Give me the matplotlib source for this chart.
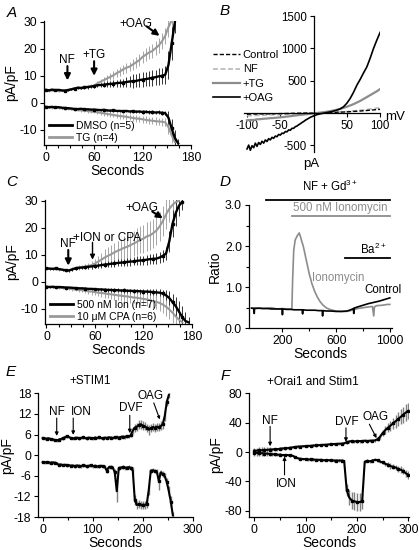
import numpy as np
import matplotlib
matplotlib.use("Agg")
import matplotlib.pyplot as plt
from matplotlib.lines import Line2D
from matplotlib.ticker import MultipleLocator, FixedLocator

plt.rcParams['font.family'] = ['Liberation Sans', 'DejaVu Sans']
plt.rcParams['mathtext.fontset'] = 'custom'
plt.rcParams['mathtext.rm'] = 'Liberation Sans'
plt.rcParams['mathtext.it'] = 'Liberation Sans:italic'
plt.rcParams['font.size'] = 8
plt.rcParams['axes.unicode_minus'] = False

# ---------------- data ----------------
# A: whole-cell currents (pA/pF), 4 s sampling
t_a = np.arange(0, 168, 4)
dmso_up = [4.8, 4.6, 4.9, 4.7, 4.8, 4.6, 4.5, 4.7, 5.0, 5.3,
           5.6, 5.4, 5.7, 5.8, 6.0, 6.2, 6.5, 6.6, 6.7, 6.9,
           7.0, 7.1, 7.3, 7.4, 7.5, 7.7, 7.9, 8.0, 8.1, 8.4,
           8.6, 8.8, 9.0, 9.3, 9.5, 9.8, 10.0, 10.4, 14.0, 22.0,
           30.0]
dmso_up_err = [0.3, 0.3, 0.3, 0.3, 0.3, 0.3, 0.3, 0.4, 0.4, 0.4,
               0.4, 0.4, 0.5, 0.5, 0.5, 0.6, 0.8, 0.8, 0.9, 1.0,
               1.0, 1.2, 1.3, 1.4, 1.5, 1.8, 2.2, 2.5, 2.4, 2.6,
               2.8, 2.6, 2.9, 3.0, 2.8, 3.2, 3.0, 3.4, 5.0, 6.0,
               4.0]
tg_up = [4.6, 4.4, 4.6, 4.5, 4.3, 4.5, 4.6, 4.9, 5.1, 5.4,
         5.6, 5.7, 5.9, 6.0, 6.2, 6.3, 7.2, 7.8, 8.4, 9.0,
         9.6, 10.2, 11.0, 11.6, 12.4, 13.0, 13.4, 14.2, 15.0, 15.8,
         17.0, 17.8, 18.6, 19.2, 20.2, 21.2, 22.8, 24.8, 28.0, 30.5]
tg_up_err = [0.3, 0.3, 0.3, 0.3, 0.3, 0.3, 0.4, 0.4, 0.4, 0.4,
             0.5, 0.5, 0.5, 0.6, 0.6, 0.7, 1.0, 1.0, 1.2, 1.2,
             1.3, 1.4, 1.5, 1.5, 1.6, 1.8, 1.8, 2.0, 2.0, 2.2,
             2.2, 2.4, 2.4, 2.5, 2.6, 2.8, 3.0, 3.0, 3.5, 3.0]
dmso_dn = [-1.5, -1.6, -1.5, -1.7, -1.6, -1.8, -1.9, -2.0, -2.1, -2.3,
           -2.3, -2.2, -2.4, -2.4, -2.5, -2.5, -2.6, -2.7, -2.6, -2.8,
           -2.9, -2.8, -3.0, -3.0, -3.1, -3.0, -3.2, -3.1, -3.3, -3.2,
           -3.4, -3.3, -3.5, -3.4, -3.6, -3.5, -3.7, -3.8, -5.5, -9.5,
           -13.0, -15.0]
dmso_dn_err = [0.2, 0.2, 0.2, 0.2, 0.2, 0.3, 0.3, 0.3, 0.3, 0.3,
               0.3, 0.3, 0.3, 0.4, 0.4, 0.4, 0.4, 0.4, 0.4, 0.4,
               0.5, 0.5, 0.5, 0.5, 0.5, 0.5, 0.5, 0.6, 0.6, 0.6,
               0.6, 0.6, 0.7, 0.7, 0.7, 0.7, 0.8, 0.8, 2.5, 3.5,
               3.0, 1.5]
tg_dn = [-1.6, -1.7, -1.8, -1.7, -1.9, -2.0, -2.1, -2.2, -2.4, -2.6,
         -2.7, -2.8, -2.9, -3.1, -3.2, -3.3, -3.5, -3.7, -3.9, -4.1,
         -4.3, -4.5, -4.7, -4.9, -5.0, -5.2, -5.4, -5.6, -5.8, -5.9,
         -6.1, -6.3, -6.5, -6.6, -6.8, -6.9, -7.0, -7.2, -9.0, -12.0,
         -14.5]
tg_dn_err = [0.3, 0.3, 0.3, 0.3, 0.3, 0.3, 0.4, 0.4, 0.4, 0.4,
             0.5, 0.5, 0.5, 0.6, 0.6, 0.6, 0.7, 0.7, 0.8, 0.8,
             0.9, 0.9, 1.0, 1.0, 1.0, 1.1, 1.1, 1.2, 1.2, 1.2,
             1.3, 1.3, 1.3, 1.4, 1.4, 1.4, 1.5, 1.5, 2.5, 3.0,
             2.0]

# B: I-V relations (pA vs mV)
mv_oag = [-100, -97.5, -95, -92.5, -90, -87.5, -85, -82.5, -80, -77.5,
          -75, -72.5, -70, -67.5, -65, -62.5, -60, -57.5, -55, -52.5,
          -50, -47.5, -45, -42.5, -40, -37.5, -35, -32.5, -30, -27.5,
          -25, -22.5, -20, -17.5, -15, -12.5, -10, -7.5, -5, -2.5, 0,
          5, 10, 15, 20, 25, 30, 35, 40, 45, 50,
          55, 60, 65, 70, 75, 80, 85, 90, 95, 100]
i_oag = [-560, -500, -580, -510, -540, -470, -520, -460, -490, -440,
         -470, -420, -445, -400, -420, -380, -395, -360, -370, -335,
         -345, -315, -320, -290, -295, -265, -270, -240, -240, -215,
         -205, -185, -170, -150, -135, -115, -100, -85, -70, -58, -48,
         -28, -15, -5, 5, 15, 28, 43, 62, 95, 150,
         225, 320, 430, 520, 620, 714, 850, 1000, 1130, 1250]
mv_tg = [-100, -95, -90, -85, -80, -75, -70, -65, -60, -55, -50,
         -45, -40, -35, -30, -25, -20, -15, -10, -5, 0,
         5, 10, 15, 20, 25, 30, 35, 40, 45, 50,
         55, 60, 65, 70, 75, 80, 85, 90, 95, 100]
i_tg = [-115, -110, -112, -100, -98, -92, -88, -82, -80, -74, -70,
        -64, -58, -52, -45, -38, -32, -26, -20, -14, -8,
        -2, 4, 10, 18, 26, 36, 48, 62, 78, 95,
        115, 135, 160, 185, 215, 245, 275, 305, 335, 370]
mv_ctl = [-100, -75, -50, -25, 0, 25, 50, 75, 100]
i_nf = [-45, -35, -25, -15, -5, 5, 20, 45, 80]
i_ctl = [-20, -16, -12, -6, 0, 6, 15, 32, 55]

# C: ionomycin / CPA
t_c = np.arange(0, 180, 4)
ion_up = [5.0, 4.9, 4.8, 5.0, 4.7, 4.5, 4.3, 4.2, 4.6, 5.0,
          5.2, 5.3, 5.4, 5.6, 5.7, 5.9, 6.0, 6.2, 6.4, 6.5,
          6.7, 6.8, 7.0, 7.1, 7.2, 7.4, 7.5, 7.6, 7.8, 7.9,
          8.0, 8.2, 8.4, 8.5, 8.6, 9.0, 9.6, 10.5, 15.0, 21.5,
          25.5, 28.2, 29.6]
ion_up_err = [0.4, 0.4, 0.4, 0.4, 0.4, 0.4, 0.4, 0.4, 0.5, 0.5,
              0.6, 0.6, 0.7, 0.7, 0.8, 0.8, 0.9, 1.0, 1.0, 1.1,
              1.2, 1.2, 1.3, 1.3, 1.4, 1.4, 1.5, 1.5, 1.6, 1.6,
              1.7, 1.8, 1.8, 1.9, 2.0, 2.0, 2.2, 2.5, 4.0, 5.0,
              5.0, 4.0, 3.0]
cpa_up = [4.9, 4.8, 4.9, 4.7, 4.6, 4.4, 4.2, 4.3, 4.8, 5.1,
          5.3, 5.5, 5.6, 5.9, 6.2, 6.8, 7.5, 8.2, 9.0, 9.6,
          10.2, 10.9, 11.5, 12.0, 12.6, 13.0, 13.6, 14.2, 14.8, 15.5,
          16.0, 16.8, 17.2, 18.0, 19.0, 20.5, 22.5, 25.0, 27.0, 28.5,
          29.5, 30.0]
cpa_up_err = [0.4, 0.4, 0.4, 0.4, 0.4, 0.4, 0.5, 0.5, 0.6, 0.7,
              0.8, 0.9, 1.0, 1.2, 1.4, 1.8, 2.2, 2.6, 3.0, 3.2,
              3.4, 3.6, 3.8, 4.0, 4.2, 4.4, 4.6, 4.8, 5.0, 5.0,
              5.2, 5.2, 5.4, 5.4, 5.5, 5.5, 5.6, 5.5, 5.0, 4.5,
              3.5, 2.5]
ion_dn = [-1.8, -1.9, -1.8, -2.0, -1.9, -2.0, -2.1, -2.1, -2.2, -2.3,
          -2.4, -2.4, -2.5, -2.6, -2.6, -2.7, -2.8, -2.8, -2.9, -3.0,
          -3.0, -3.1, -3.1, -3.2, -3.2, -3.3, -3.3, -3.4, -3.4, -3.5,
          -3.6, -3.6, -3.7, -3.8, -3.9, -4.0, -4.3, -5.0, -6.0, -7.5,
          -9.0, -11.0, -13.0, -14.5, -15.0]
ion_dn_err = [0.3, 0.3, 0.3, 0.3, 0.3, 0.3, 0.3, 0.3, 0.4, 0.4,
              0.4, 0.4, 0.5, 0.5, 0.5, 0.5, 0.6, 0.6, 0.6, 0.6,
              0.7, 0.7, 0.7, 0.7, 0.8, 0.8, 0.8, 0.8, 0.9, 0.9,
              0.9, 1.0, 1.0, 1.0, 1.1, 1.2, 1.4, 1.8, 2.5, 3.0,
              3.5, 4.0, 4.0, 3.5, 2.0]
cpa_dn = [-1.9, -2.0, -2.0, -2.1, -2.2, -2.3, -2.4, -2.5, -2.7, -2.9,
          -3.0, -3.1, -3.3, -3.5, -3.6, -3.8, -4.0, -4.1, -4.3, -4.5,
          -4.6, -4.8, -5.0, -5.1, -5.3, -5.4, -5.6, -5.8, -5.9, -6.1,
          -6.3, -6.5, -6.8, -7.1, -7.4, -7.8, -8.4, -9.2, -10.2, -11.4,
          -12.8, -14.0, -15.0]
cpa_dn_err = [0.3, 0.3, 0.3, 0.4, 0.4, 0.4, 0.5, 0.5, 0.6, 0.6,
              0.7, 0.8, 0.9, 1.0, 1.1, 1.2, 1.3, 1.4, 1.5, 1.6,
              1.7, 1.8, 1.9, 2.0, 2.0, 2.1, 2.2, 2.2, 2.3, 2.4,
              2.4, 2.5, 2.6, 2.7, 2.8, 3.0, 3.2, 3.4, 3.6, 3.8,
              3.5, 3.0, 2.0]

# D: fura-2 ratio
t_iono = [-30, 0, 40, 80, 120, 160, 200, 240, 270, 276, 284, 295,
          310, 325, 335, 345, 355, 365, 380, 400, 420, 440, 460, 480,
          500, 530, 560, 600, 640, 680, 720, 760, 800, 840, 870, 880,
          885, 890, 900, 940, 980, 1000]
r_iono = [0.49, 0.50, 0.48, 0.49, 0.50, 0.47, 0.48, 0.47, 0.47, 1.20, 1.90, 2.15,
          2.25, 2.32, 2.22, 2.10, 2.00, 1.85, 1.62, 1.32, 1.08, 0.90, 0.76, 0.65,
          0.57, 0.49, 0.45, 0.42, 0.41, 0.41, 0.44, 0.48, 0.50, 0.52, 0.53, 0.30,
          0.52, 0.53, 0.55, 0.56, 0.58, 0.58]
t_ctl = [-30, -12, -10, -8, 30, 60, 90, 120, 150, 180, 198, 200, 202, 230,
         260, 290, 320, 348, 350, 352, 380, 410, 440, 470, 497, 499, 501,
         530, 560, 600, 640, 680, 700, 729, 731, 733, 760, 800, 840, 880,
         920, 960, 1000]
r_ctl = [0.49, 0.48, 0.36, 0.48, 0.49, 0.48, 0.48, 0.47, 0.47, 0.47, 0.47, 0.33, 0.47, 0.46,
         0.46, 0.45, 0.45, 0.45, 0.35, 0.45, 0.44, 0.44, 0.44, 0.43, 0.43, 0.30, 0.43,
         0.42, 0.42, 0.41, 0.41, 0.42, 0.44, 0.48, 0.36, 0.49, 0.52, 0.56, 0.60, 0.63,
         0.66, 0.70, 0.74]
bar_labels = ['NF + Gd$^{3+}$', '500 nM Ionomycin', 'Ba$^{2+}$']
bar_start = [80, 270, 665]
bar_end = [1000, 1000, 1000]

# E: +STIM1
t_e = np.arange(0, 264, 4)
e_up = [5.0, 4.9, 4.8, 4.9, 4.7, 4.6, 4.4, 4.3, 4.5, 4.7,
        4.9, 5.2, 5.5, 5.3, 5.0, 4.8, 5.0, 5.1, 4.9, 5.0,
        5.2, 5.0, 4.9, 5.1, 5.0, 4.9, 5.1, 5.0, 5.2, 5.0,
        4.9, 5.1, 5.0, 5.2, 5.1, 5.0, 5.2, 5.3, 5.1, 5.3,
        5.4, 5.3, 5.5, 5.4, 5.8, 7.2, 8.0, 8.3, 8.8, 9.0,
        8.6, 8.4, 8.0, 7.4, 7.8, 8.2, 8.0, 8.3, 8.1, 8.5,
        9.0, 11.5, 15.5, 17.5]
e_up_err = [0.4, 0.4, 0.4, 0.4, 0.4, 0.4, 0.4, 0.4, 0.4, 0.4,
            0.4, 0.5, 0.5, 0.4, 0.4, 0.4, 0.4, 0.4, 0.4, 0.4,
            0.4, 0.4, 0.4, 0.4, 0.4, 0.4, 0.4, 0.4, 0.4, 0.4,
            0.4, 0.4, 0.4, 0.4, 0.4, 0.4, 0.5, 0.5, 0.5, 0.5,
            0.5, 0.5, 0.5, 0.5, 0.6, 1.0, 1.2, 1.2, 1.3, 1.3,
            1.2, 1.2, 1.2, 1.4, 1.2, 1.2, 1.2, 1.2, 1.2, 1.3,
            1.4, 1.5, 1.2, 0.8]
e_dn = [-2.0, -2.1, -2.0, -2.1, -2.2, -2.1, -2.2, -2.4, -2.8, -2.7,
        -2.9, -2.8, -3.0, -2.9, -3.1, -3.0, -3.2, -3.0, -3.1, -3.2,
        -3.0, -3.1, -3.2, -3.1, -3.0, -3.2, -3.1, -3.3, -3.2, -3.1,
        -3.3, -3.4, -4.5, -3.5, -3.4, -3.6, -5.0, -10.5, -3.8, -3.6,
        -3.5, -3.7, -3.6, -3.5, -3.7, -4.5, -13.0, -14.5, -14.3, -14.6,
        -14.4, -14.5, -14.2, -10.0, -4.5, -4.4, -4.6, -4.8, -7.5, -5.0,
        -5.5, -6.2, -7.8, -10.5, -13.5, -17.5]
e_dn_err = [0.4, 0.4, 0.4, 0.4, 0.4, 0.4, 0.4, 0.4, 0.4, 0.4,
            0.4, 0.4, 0.4, 0.4, 0.4, 0.4, 0.4, 0.4, 0.4, 0.4,
            0.4, 0.4, 0.4, 0.4, 0.4, 0.4, 0.4, 0.4, 0.4, 0.4,
            0.4, 0.5, 0.8, 0.5, 0.5, 0.5, 1.0, 3.0, 0.5, 0.5,
            0.5, 0.5, 0.5, 0.5, 0.5, 1.0, 1.5, 1.2, 1.2, 1.2,
            1.2, 1.2, 1.2, 1.5, 0.6, 0.6, 0.6, 0.7, 2.5, 0.8,
            0.9, 1.0, 1.2, 1.5, 1.5, 1.0]

# F: +Orai1 and Stim1
t_f = np.arange(0, 305, 5)
f_up = [2.0, 2.0, 2.5, 2.5, 3.0, 3.0, 3.5, 3.5, 4.0, 4.0,
        4.5, 5.0, 5.0, 5.5, 6.0, 6.5, 7.0, 7.5, 7.5, 8.0,
        8.0, 8.5, 8.5, 9.0, 9.0, 9.5, 9.5, 10.0, 10.0, 10.5,
        10.5, 11.0, 11.0, 11.5, 11.5, 12.0, 13.5, 14.5, 15.0, 14.5,
        15.0, 15.0, 15.0, 15.5, 15.0, 15.5, 15.5, 16.0, 17.5, 21.0,
        26.0, 30.0, 33.0, 36.0, 39.0, 42.0, 45.0, 48.0, 51.0, 54.0,
        56.0]
f_up_err = [4.0, 4.0, 4.0, 3.8, 3.6, 3.4, 3.0, 2.6, 2.2, 2.0,
            1.8, 1.6, 1.5, 1.5, 1.5, 1.5, 1.5, 1.5, 1.5, 1.5,
            1.5, 1.5, 1.5, 1.5, 1.5, 1.5, 1.5, 1.5, 1.5, 1.5,
            1.5, 1.5, 1.5, 1.5, 1.5, 1.5, 2.0, 2.0, 2.0, 2.0,
            2.0, 2.0, 2.0, 2.0, 2.0, 2.0, 2.0, 2.0, 2.5, 3.0,
            4.0, 5.0, 6.0, 7.0, 8.0, 9.0, 10.0, 10.0, 11.0, 11.0,
            11.0]
f_dn = [-1.0, -1.0, -1.5, -1.5, -2.0, -2.0, -2.5, -3.0, -3.0, -3.5,
        -3.5, -4.0, -4.0, -4.0, -4.5, -5.0, -7.0, -8.5, -9.0, -9.5,
        -9.5, -10.0, -10.0, -10.0, -10.5, -10.5, -10.5, -11.0, -11.0, -11.0,
        -11.0, -11.5, -11.5, -11.5, -11.5, -12.0, -52.0, -62.0, -66.0, -67.0,
        -68.0, -68.0, -67.0, -13.0, -12.0, -12.5, -11.5, -10.5, -11.0, -13.0,
        -14.0, -16.0, -17.0, -19.0, -20.0, -21.0, -23.0, -24.0, -26.0, -29.0,
        -31.0]
f_dn_err = [4.0, 4.0, 4.0, 3.8, 3.6, 3.4, 3.0, 2.6, 2.2, 2.0,
            1.8, 1.6, 1.5, 1.5, 1.5, 1.5, 1.5, 1.5, 1.5, 1.5,
            1.5, 1.5, 1.5, 1.5, 1.5, 1.5, 1.5, 1.5, 1.5, 1.5,
            1.5, 1.5, 1.5, 1.5, 1.5, 1.5, 8.0, 10.0, 11.0, 12.0,
            12.0, 12.0, 10.0, 2.0, 2.0, 2.0, 2.0, 2.0, 2.0, 2.5,
            2.5, 3.0, 3.0, 3.5, 3.5, 4.0, 4.0, 4.5, 4.5, 5.0,
            5.0]

TICK = 8.7
ANN = 8.5


# ---------------- helpers ----------------
def style(ax):
    for s in ('top', 'right'):
        ax.spines[s].set_visible(False)
    for s in ('left', 'bottom'):
        ax.spines[s].set_linewidth(0.9)
    ax.tick_params(direction='out', length=3, width=0.8, labelsize=TICK, pad=2)
    ax.tick_params(which='minor', length=2, width=0.8)


def trace(ax, t, v, e, col, ecol, lw=1.5, ms=0, every=3, elw=0.7):
    tt = t[:len(v)]
    ax.errorbar(tt, v, yerr=e, color=col, ecolor=ecol, elinewidth=elw, lw=lw,
                capsize=0, marker='s' if ms else None, ms=ms, markevery=every)


def arrow(ax, xy0, xy1, lw=1.5, head=9):
    ax.annotate('', xy=xy1, xytext=xy0,
                arrowprops=dict(arrowstyle='-|>', lw=lw, color='k',
                                mutation_scale=head, shrinkA=0, shrinkB=0))


fig = plt.figure(figsize=(4.19, 5.5), dpi=100)

# ---------------- A ----------------
axA = fig.add_axes([0.105, 0.7364, 0.352, 0.2255])
style(axA)
trace(axA, t_a, tg_up, tg_up_err, '0.6', '0.65')
trace(axA, t_a, tg_dn, tg_dn_err, '0.6', '0.65')
trace(axA, t_a, dmso_up, dmso_up_err, 'k', '0.2', lw=1.7, ms=1.8)
trace(axA, t_a, dmso_dn, dmso_dn_err, 'k', '0.2', lw=1.7, ms=1.8)
axA.set_xlim(-2, 180.5)
axA.set_ylim(-15.6, 30.3)
axA.set_xticks([0, 60, 120, 180])
axA.set_yticks([-10, 0, 10, 20, 30])
axA.xaxis.set_minor_locator(MultipleLocator(15))
axA.set_xlabel('Seconds', fontsize=10, labelpad=0)
axA.set_ylabel('pA/pF', fontsize=10, labelpad=1)
axA.text(27, 16, 'NF', ha='center', va='center', fontsize=ANN)
arrow(axA, (27, 13.6), (27, 8.3))
axA.text(60, 17.8, '+TG', ha='center', va='center', fontsize=ANN)
arrow(axA, (60, 15.4), (60, 10))
axA.text(112, 29.3, '+OAG', ha='center', va='center', fontsize=ANN)
arrow(axA, (125, 28.3), (141, 24.8))
axA.legend([Line2D([], [], color='k', lw=2), Line2D([], [], color='0.6', lw=2)],
           ['DMSO (n=5)', 'TG (n=4)'], loc='lower left', bbox_to_anchor=(0.02, 0.0),
           frameon=False, fontsize=7.5, handlelength=2.2, handletextpad=0.4,
           labelspacing=0.2, borderpad=0.1, borderaxespad=0.1)

# ---------------- B ----------------
axB = fig.add_axes([0.5816, 0.7245, 0.3258, 0.2473])
for s in ('top', 'right'):
    axB.spines[s].set_visible(False)
for s in ('left', 'bottom'):
    axB.spines[s].set_linewidth(0.9)
axB.spines['left'].set_position(('data', 0))
axB.spines['bottom'].set_position(('data', 0))
axB.tick_params(direction='out', length=3, width=0.8, labelsize=8.3, pad=2)
axB.plot(mv_ctl, i_nf, color='0.72', lw=1.2, ls=(0, (3, 1.5)))
axB.plot(mv_ctl, i_ctl, color='k', lw=1.0, ls=(0, (3, 1.5)))
axB.plot(mv_tg, i_tg, color='0.55', lw=1.6)
axB.plot(mv_oag, i_oag, color='k', lw=1.2)
axB.set_xlim(-105, 100)
axB.set_ylim(-600, 1510)
axB.set_xticks([-100, -50, 50, 100])
axB.set_yticks([-500, 500, 1000, 1500])
axB.text(107, -60, 'mV', ha='left', va='center', fontsize=9.5)
axB.text(-3, -790, 'pA', ha='center', va='center', fontsize=9.5, clip_on=False)
axB.legend([Line2D([], [], color='k', lw=1.0, ls=(0, (3, 1.5))),
            Line2D([], [], color='0.72', lw=1.2, ls=(0, (3, 1.5))),
            Line2D([], [], color='0.55', lw=1.6),
            Line2D([], [], color='k', lw=1.2)],
           ['Control', 'NF', '+TG', '+OAG'], loc='upper left',
           bbox_to_anchor=(-0.235, 0.755), frameon=False, fontsize=8,
           handlelength=2.5, handletextpad=0.2, labelspacing=0.4,
           borderpad=0.1, borderaxespad=0)

# ---------------- C ----------------
axC = fig.add_axes([0.107, 0.4109, 0.352, 0.2255])
style(axC)
trace(axC, t_c, cpa_up, cpa_up_err, '0.6', '0.65')
trace(axC, t_c, cpa_dn, cpa_dn_err, '0.6', '0.65')
trace(axC, t_c, ion_up, ion_up_err, 'k', '0.2', lw=1.7, ms=1.8)
trace(axC, t_c, ion_dn, ion_dn_err, 'k', '0.2', lw=1.7, ms=1.8)
axC.set_xlim(-2, 180.5)
axC.set_ylim(-15.6, 30.3)
axC.set_xticks([0, 60, 120, 180])
axC.set_yticks([-10, 0, 10, 20, 30])
axC.xaxis.set_minor_locator(MultipleLocator(15))
axC.set_xlabel('Seconds', fontsize=10, labelpad=0)
axC.set_ylabel('pA/pF', fontsize=10, labelpad=1)
axC.text(27, 13.9, 'NF', ha='center', va='center', fontsize=ANN)
arrow(axC, (27, 11.8), (27, 6))
axC.text(75, 16.4, '+ION or CPA', ha='center', va='center', fontsize=ANN)
arrow(axC, (57, 14.6), (57, 8.2), lw=1.0, head=7)
axC.text(118, 27.3, '+OAG', ha='center', va='center', fontsize=ANN)
arrow(axC, (131, 26), (144, 23.5))
axC.legend([Line2D([], [], color='k', lw=2), Line2D([], [], color='0.6', lw=2)],
           ['500 nM Ion (n=7)', '10 \u03bcM CPA (n=6)'], loc='lower left',
           bbox_to_anchor=(0.02, 0.0), frameon=False, fontsize=7.5,
           handlelength=2.2, handletextpad=0.4, labelspacing=0.2,
           borderpad=0.1, borderaxespad=0.1)

# ---------------- D ----------------
axD = fig.add_axes([0.594, 0.4031, 0.3406, 0.2242])
style(axD)
axD.plot(t_iono, r_iono, color='0.55', lw=1.2)
axD.plot(t_ctl, r_ctl, color='k', lw=1.2)
axD.set_xlim(-50, 1013)
axD.set_ylim(0, 3)
axD.set_xticks([200, 600, 1000])
axD.xaxis.set_minor_locator(FixedLocator([400, 800]))
axD.set_yticks([0, 1, 2, 3])
axD.set_yticklabels(['0.0', '1.0', '2.0', '3.0'])
axD.yaxis.set_minor_locator(FixedLocator([0.5, 1.5, 2.5]))
axD.set_xlabel('Seconds', fontsize=10, labelpad=0)
axD.set_ylabel('Ratio', fontsize=10, labelpad=2)
bar_y = [3.13, 2.74, 1.71]
bar_col = ['k', '0.55', 'k']
text_y = [3.45, 2.93, 1.92]
for lab, x0, x1, yb, col, yt in zip(bar_labels, bar_start, bar_end, bar_y, bar_col, text_y):
    axD.plot([x0, x1], [yb, yb], color=col, lw=1.3, clip_on=False)
    xc = 553 if x0 < 100 else (628 if x0 < 500 else 876)
    axD.text(xc, yt, lab, ha='center', va='center', fontsize=8.3, color=col, clip_on=False)
axD.text(613, 1.22, 'Ionomycin', ha='center', va='center', fontsize=8.3, color='0.55')
axD.text(948, 0.93, 'Control', ha='center', va='center', fontsize=8.3, color='k')

# ---------------- E ----------------
axE = fig.add_axes([0.0914, 0.06, 0.37, 0.2249])
style(axE)
trace(axE, t_e, e_up, e_up_err, 'k', '0.5', lw=1.5, ms=1.8, every=2, elw=1.0)
trace(axE, t_e, e_dn, e_dn_err, 'k', '0.5', lw=1.5, ms=1.8, every=2, elw=1.0)
axE.set_xlim(-8.8, 301)
axE.set_ylim(-18, 18)
axE.set_xticks([0, 100, 200, 300])
axE.xaxis.set_minor_locator(MultipleLocator(50))
axE.set_yticks([-18, -12, -6, 0, 6, 12, 18])
axE.set_xlabel('Seconds', fontsize=10, labelpad=0)
axE.set_ylabel('pA/pF', fontsize=10, labelpad=0)
axE.text(95, 21.6, '+STIM1', ha='center', va='center', fontsize=ANN, clip_on=False)
axE.text(28, 12.6, 'NF', ha='center', va='center', fontsize=ANN)
arrow(axE, (28, 10.8), (28, 5.6), lw=0.8, head=5)
axE.text(78, 12.6, 'ION', ha='center', va='center', fontsize=ANN)
arrow(axE, (61, 10.8), (61, 5.9), lw=0.8, head=5)
axE.text(176, 13.6, 'DVF', ha='center', va='center', fontsize=ANN)
arrow(axE, (174, 11.6), (174, 6.4), lw=0.8, head=5)
axE.text(215, 17.2, 'OAG', ha='center', va='center', fontsize=ANN, clip_on=False)
arrow(axE, (222, 15.2), (234, 10.4), lw=0.8, head=4)

# ---------------- F ----------------
axF = fig.add_axes([0.594, 0.0605, 0.382, 0.225])
style(axF)
trace(axF, t_f, f_up, f_up_err, 'k', '0.5', lw=1.5, ms=1.8, every=2, elw=1.0)
trace(axF, t_f, f_dn, f_dn_err, 'k', '0.5', lw=1.5, ms=1.8, every=2, elw=1.0)
axF.set_xlim(-10.3, 301)
axF.set_ylim(-88, 80.5)
axF.set_xticks([0, 100, 200, 300])
axF.xaxis.set_minor_locator(MultipleLocator(50))
axF.set_yticks([-80, -40, 0, 40, 80])
axF.set_xlabel('Seconds', fontsize=10, labelpad=0)
axF.set_ylabel('pA/pF', fontsize=10, labelpad=1)
axF.text(114, 95, '+Orai1 and Stim1', ha='center', va='center', fontsize=ANN, clip_on=False)
axF.text(31, 43, 'NF', ha='center', va='center', fontsize=ANN)
arrow(axF, (31, 35), (31, 8), lw=0.8, head=5)
axF.text(63, -43, 'ION', ha='center', va='center', fontsize=ANN)
arrow(axF, (59, -31), (59, -6), lw=0.8, head=5)
axF.text(180, 41, 'DVF', ha='center', va='center', fontsize=ANN)
arrow(axF, (178.5, 33), (178.5, 14), lw=0.8, head=5)
axF.text(236, 48, 'OAG', ha='center', va='center', fontsize=ANN)
arrow(axF, (224, 38), (238, 19), lw=0.8, head=5)

# panel letters
for lab, x, y in [('A', 0.029, 0.976), ('B', 0.537, 0.980), ('C', 0.029, 0.669),
                  ('D', 0.537, 0.669), ('E', 0.026, 0.324), ('F', 0.537, 0.316)]:
    fig.text(x, y, lab, fontsize=11, style='italic', ha='center', va='center')

fig.savefig('out.png', dpi=100)
